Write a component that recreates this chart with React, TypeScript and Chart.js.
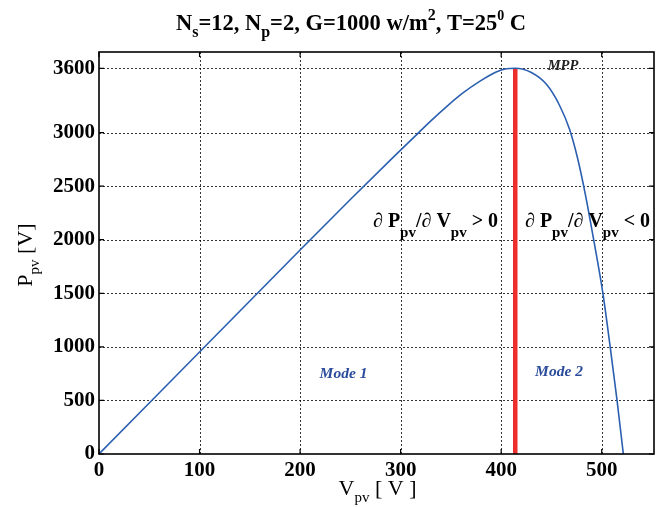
import React, { useEffect, useRef } from "react";
import { Chart, registerables } from "chart.js";

Chart.register(...registerables);

// ---- data ----
const vpv = [0, 50, 100, 150, 200, 250, 291, 317.5, 329, 346, 362, 379, 395, 405, 414, 430, 445, 458, 468, 476, 484, 492, 501, 508, 515, 521.5];
const ppv = [0, 476, 952, 1428, 1904, 2375, 2755, 2995, 3100, 3245, 3370, 3480, 3565, 3595, 3600, 3560, 3450, 3255, 3030, 2760, 2410, 2000, 1510, 1030, 520, 0];
const mppV = 414;
const mppP = 3600;
const xTicks = [0, 100, 200, 300, 400, 500];
const yTicks = [0, 500, 1000, 1500, 2000, 2500, 3000, 3600];
const xMax = 552;
const yMax = 3752;

type Seg = { t: string; size: number; dy?: number; style?: string };

function drawRich(ctx: CanvasRenderingContext2D, segs: Seg[], x: number, y: number, align: "left" | "center", family: string, color: string) {
  ctx.save();
  ctx.fillStyle = color;
  ctx.textBaseline = "alphabetic";
  ctx.textAlign = "left";
  let total = 0;
  const widths = segs.map((s) => {
    ctx.font = `${s.style || "bold"} ${s.size}px ${family}`;
    const w = ctx.measureText(s.t).width;
    total += w;
    return w;
  });
  let cx = align === "center" ? x - total / 2 : x;
  segs.forEach((s, i) => {
    ctx.font = `${s.style || "bold"} ${s.size}px ${family}`;
    ctx.fillText(s.t, cx, y + (s.dy || 0));
    cx += widths[i];
  });
  ctx.restore();
}

const SERIF = '"Liberation Serif", "Times New Roman", serif';

const decorPlugin = {
  id: "decor",
  beforeDatasetsDraw(chart: any) {
    const { ctx, chartArea: a, scales } = chart;
    const xs = scales.x;
    const ys = scales.y;
    ctx.save();
    ctx.strokeStyle = "#000";
    ctx.lineWidth = 0.8;
    ctx.setLineDash([2, 2]);
    xTicks.forEach((v) => {
      if (v === 0) return;
      const px = Math.round(xs.getPixelForValue(v)) + 0.5;
      ctx.beginPath();
      ctx.moveTo(px, a.top);
      ctx.lineTo(px, a.bottom);
      ctx.stroke();
    });
    yTicks.forEach((v) => {
      if (v === 0) return;
      const py = Math.round(ys.getPixelForValue(v)) + 0.5;
      ctx.beginPath();
      ctx.moveTo(a.left, py);
      ctx.lineTo(a.right, py);
      ctx.stroke();
    });
    ctx.restore();
  },
  afterDraw(chart: any) {
    const { ctx, chartArea: a, scales } = chart;
    const xs = scales.x;
    const ys = scales.y;
    ctx.save();
    ctx.strokeStyle = "#000";
    ctx.lineWidth = 1.6;
    ctx.setLineDash([]);
    ctx.strokeRect(a.left, a.top, a.right - a.left, a.bottom - a.top);
    ctx.lineWidth = 1.2;
    const tl = 5;
    xTicks.forEach((v) => {
      const px = xs.getPixelForValue(v);
      ctx.beginPath();
      ctx.moveTo(px, a.bottom);
      ctx.lineTo(px, a.bottom - tl);
      ctx.moveTo(px, a.top);
      ctx.lineTo(px, a.top + tl);
      ctx.stroke();
    });
    yTicks.forEach((v) => {
      const py = ys.getPixelForValue(v);
      ctx.beginPath();
      ctx.moveTo(a.left, py);
      ctx.lineTo(a.left + tl, py);
      ctx.moveTo(a.right, py);
      ctx.lineTo(a.right - tl, py);
      ctx.stroke();
    });
    ctx.restore();

    // title
    drawRich(ctx, [
      { t: "N", size: 22.5 },
      { t: "s", size: 16, dy: 7 },
      { t: "=12, N", size: 22.5 },
      { t: "p", size: 16, dy: 7 },
      { t: "=2, G=1000 w/m", size: 22.5 },
      { t: "2", size: 16, dy: -10 },
      { t: ", T=25", size: 22.5 },
      { t: "0", size: 14, dy: -10 },
      { t: " C", size: 22.5 },
    ], 351, 30, "center", SERIF, "#000");

    // derivative labels
    const dSegs = (sign: string): Seg[] => [
      { t: "\u2202 P", size: 20 },
      { t: "pv", size: 15, dy: 10 },
      { t: "/\u2202 V", size: 20 },
      { t: "pv", size: 15, dy: 10 },
      { t: ` ${sign} 0`, size: 20 },
    ];
    drawRich(ctx, dSegs(">"), 373, 227, "left", SERIF, "#000");
    drawRich(ctx, dSegs("<"), 525, 227, "left", SERIF, "#000");

    // MPP
    drawRich(ctx, [{ t: "MPP", size: 14.5, style: "italic bold" }], 563, 69.5, "center", SERIF, "#222");
    // modes
    drawRich(ctx, [{ t: "Mode 1", size: 15.5, style: "italic bold" }], 343.5, 377.5, "center", SERIF, "#2b4c9c");
    drawRich(ctx, [{ t: "Mode 2", size: 15.5, style: "italic bold" }], 559, 375.5, "center", SERIF, "#2b4c9c");

    // x axis title
    drawRich(ctx, [
      { t: "V", size: 22, style: "normal" },
      { t: "pv", size: 15, dy: 7, style: "normal" },
      { t: " [ V ]", size: 22, style: "normal" },
    ], 377.5, 495, "center", SERIF, "#000");

    // y axis title (rotated)
    ctx.save();
    ctx.translate(32, 255);
    ctx.rotate(-Math.PI / 2);
    drawRich(ctx, [
      { t: "P", size: 22, style: "normal" },
      { t: "pv", size: 15, dy: 7, style: "normal" },
      { t: " [V]", size: 22, style: "normal" },
    ], 0, 0, "center", SERIF, "#000");
    ctx.restore();
  },
};

export default function App() {
  const ref = useRef<HTMLCanvasElement | null>(null);
  useEffect(() => {
    document.body.style.margin = "0";
    const canvas = ref.current!;
    const chart = new Chart(canvas, {
      type: "scatter",
      data: {
        datasets: [
          {
            data: vpv.map((v, i) => ({ x: v, y: ppv[i] })),
            showLine: true,
            borderColor: "#2b5fb0",
            borderWidth: 1.6,
            pointRadius: 0,
            cubicInterpolationMode: "monotone",
          },
          {
            data: [
              { x: mppV, y: 0 },
              { x: mppV, y: mppP },
            ],
            showLine: true,
            borderColor: "#ee2d2d",
            borderWidth: 4.5,
            pointRadius: 0,
          },
        ],
      },
      options: {
        animation: false,
        responsive: false,
        devicePixelRatio: 1,
        layout: { padding: { left: 0, top: 52, right: 6, bottom: 0 } },
        plugins: { legend: { display: false }, tooltip: { enabled: false }, title: { display: false } },
        scales: {
          x: {
            type: "linear",
            min: 0,
            max: xMax,
            grid: { display: false, drawTicks: false },
            border: { display: false },
            afterBuildTicks: (s: any) => {
              s.ticks = xTicks.map((v) => ({ value: v }));
            },
            afterFit: (s: any) => {
              s.height = 53;
            },
            ticks: {
              color: "#000",
              padding: 4,
              maxRotation: 0,
              font: { family: SERIF, size: 21, weight: "bold" },
              callback: (v: any) => String(v),
            },
          },
          y: {
            type: "linear",
            min: 0,
            max: yMax,
            grid: { display: false, drawTicks: false },
            border: { display: false },
            afterBuildTicks: (s: any) => {
              s.ticks = yTicks.map((v) => ({ value: v }));
            },
            afterFit: (s: any) => {
              s.width = 99;
            },
            ticks: {
              color: "#000",
              padding: 4,
              font: { family: SERIF, size: 21, weight: "bold" },
              callback: (v: any) => String(v),
            },
          },
        },
      },
      plugins: [decorPlugin],
    } as any);
    return () => chart.destroy();
  }, []);
  return (
    <div style={{ width: 660, height: 507, background: "#fff" }}>
      <canvas ref={ref} width={660} height={507} style={{ display: "block", width: 660, height: 507 }} />
    </div>
  );
}
